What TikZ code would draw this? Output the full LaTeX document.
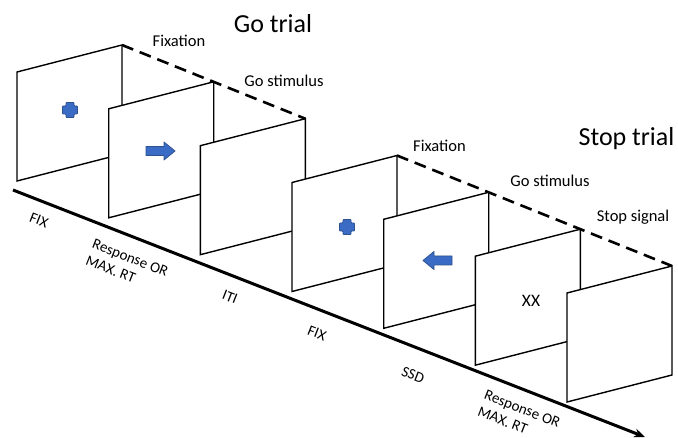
\documentclass[tikz,border=0pt]{standalone}
\usepackage{fontspec}
\setmainfont{Carlito}
\usetikzlibrary{arrows.meta}
\definecolor{iconblue}{HTML}{3A6CC6}
\definecolor{iconedge}{HTML}{2F528F}
\tikzset{
  screen/.style={draw=black, line width=1.4pt, fill=white, line join=miter},
  timeline/.style={line width=3pt, -{Stealth[length=11pt,width=9pt]}},
  phase/.style={line width=2.6pt, dash pattern=on 12pt off 7pt},
  title/.style={font=\fontsize{26}{30}\selectfont, anchor=base},
  eventlabel/.style={font=\fontsize{16.5}{19}\selectfont, anchor=base},
  axislabel/.style={font=\fontsize{15}{18}\selectfont, rotate=-21.4, align=left, inner sep=0pt},
  icon/.style={fill=iconblue, draw=iconedge, line width=0.8pt, line join=round},
  pics/screen/.style={code={
    \draw[screen] (0,0) -- (105,-27) -- (105,82) -- (0,109) -- cycle;}},
  pics/fixcross/.style={code={
    \draw[icon, rounded corners=0.8pt] (-4,-7.5) -- (4,-7.5) -- (4,-4) -- (7.5,-4) -- (7.5,4) -- (4,4)
      -- (4,7.5) -- (-4,7.5) -- (-4,4) -- (-7.5,4) -- (-7.5,-4) -- (-4,-4) -- cycle;}},
  pics/goarrow/.style={code={
    \draw[icon] (0,-4.5) -- (18,-4.5) -- (18,-9) -- (29,0) -- (18,9) -- (18,4.5) -- (0,4.5) -- cycle;}},
}
\begin{document}
\begin{tikzpicture}[x=1pt, y=-1pt]
\useasboundingbox (0,0) rectangle (678,438);

% time axis
\coordinate (t0) at (13,190);
\coordinate (t1) at (645,437);
\draw[timeline] (t0) -- (t1);

% screen corners (top-left of each screen)
\coordinate (s0) at (17,72);
\coordinate (s1) at (108.7,108.8);
\coordinate (s2) at (200.3,145.7);
\coordinate (s3) at (292,182.5);
\coordinate (s4) at (383.7,219.3);
\coordinate (s5) at (475.3,256.2);
\coordinate (s6) at (567,293);

% dashed phase lines over the top-right corners
\draw[phase] ([shift={(105,-27)}]s0) coordinate (g0) -- ([shift={(105,-27)}]s2) coordinate (g1);
\draw[phase] ([shift={(105,-27)}]s3) coordinate (p0) -- ([shift={(105,-27)}]s6) coordinate (p1);

% screens, back to front, with their contents
\pic at (s0) {screen};
\pic at (70,110) {fixcross};
\pic at (s1) {screen};
\pic at (146,151) {goarrow};
\pic at (s2) {screen};
\pic at (s3) {screen};
\pic at (347,227) {fixcross};
\pic at (s4) {screen};
\pic[xscale=-1] at (452,260.5) {goarrow};
\pic at (s5) {screen};
\node[eventlabel, font=\fontsize{17.5}{20}\selectfont] (xx) at (531,307) {XX};
\pic at (s6) {screen};

% titles
\node[title] (gotitle) at (273,33) {Go trial};
\node[title] (stoptitle) at (626.5,146) {Stop trial};

% event labels above the dashed lines
\node[eventlabel] (gofix) at (179,47) {Fixation};
\node[eventlabel] (gostim) at (284,87) {Go stimulus};
\node[eventlabel] (stopfix) at (439.5,152) {Fixation};
\node[eventlabel] (stopstim) at (550,187) {Go stimulus};
\node[eventlabel] (stopsig) at (633,222) {Stop signal};

% interval labels along the time axis
\node[axislabel] (ifix1) at (39,220) {FIX};
\node[axislabel] (iresp1) at (127,266) {Response OR\\MAX. RT};
\node[axislabel] (iiti) at (230,297) {ITI};
\node[axislabel] (ifix2) at (317,333) {FIX};
\node[axislabel] (issd) at (413,375) {SSD};
\node[axislabel] (iresp2) at (519,417) {Response OR\\MAX. RT};
\end{tikzpicture}
\end{document}
